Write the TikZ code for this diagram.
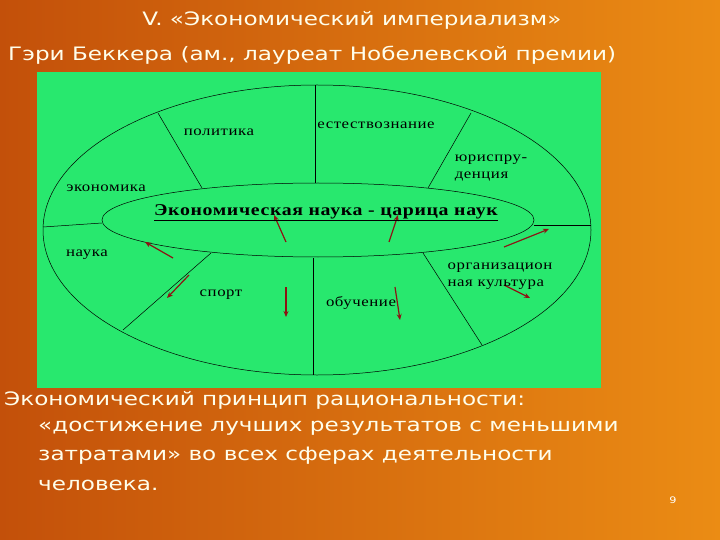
\documentclass[tikz,border=0pt]{standalone}
\usepackage{fontspec}
\setmainfont{DejaVu Sans}[FakeStretch=1.25]
\newfontfamily\serifx{Liberation Serif}[FakeStretch=1.2,LetterSpace=4]
\definecolor{bgA}{RGB}{195,80,10}
\definecolor{bgB}{RGB}{235,140,20}
\definecolor{grn}{RGB}{40,232,110}
\definecolor{arr}{RGB}{140,20,20}
\usetikzlibrary{arrows.meta}
\begin{document}
\begin{tikzpicture}[x=1pt,y=-1pt,
  lab/.style={font=\serifx\fontsize{14}{17}\selectfont, align=left, inner sep=0pt},
  hd/.style={font=\fontsize{18.5}{28}\selectfont, text=white!92!yellow, inner sep=0pt, anchor=west},
  ln/.style={draw=black, line width=0.5pt},
  ar/.style={draw=arr, line width=1.2pt, -{Stealth[length=6pt,width=5pt]}}]
\useasboundingbox (0,0) rectangle (720,540);
\shade[left color=bgA, right color=bgB] (0,0) rectangle (720,540);
\fill[grn] (37,72) rectangle (601,388);
\draw[ln] (317,230) ellipse [x radius=274, y radius=145];
\draw[ln] (318,220) ellipse [x radius=216, y radius=37];
\coordinate (t1) at (315,85); \coordinate (t2) at (315,183);
\coordinate (b1) at (313,258); \coordinate (b2) at (313,375);
\coordinate (l1) at (43,227); \coordinate (l2) at (102,223);
\coordinate (r1) at (534,225); \coordinate (r2) at (591,225);
\coordinate (p1) at (158,113); \coordinate (p2) at (202,188);
\coordinate (j1) at (471,113); \coordinate (j2) at (428,188);
\coordinate (s1) at (211,253); \coordinate (s2) at (123,330);
\coordinate (o1) at (423,253); \coordinate (o2) at (482,345);
\foreach \a/\b in {t1/t2,b1/b2,l1/l2,r1/r2,p1/p2,j1/j2,s1/s2,o1/o2} \draw[ln] (\a)--(\b);
\foreach \a/\b/\c/\d in {286/242/274/215, 389/242/398/215, 173/258/145/242, 189/275/167/298, 286/287/286/317, 395/287/400/320, 504/247/549/229, 504/285/530/298}
  \draw[ar] (\a,\b)--(\c,\d);
\node[lab] (pol) at (219,132) {политика};
\node[lab] (est) at (376,125) {естествознание};
\node[lab] (jur) at (491,168) {юриспру-\\денция};
\node[lab] (eco) at (106,188) {экономика};
\node[lab] (nau) at (87,255) {наука};
\node[lab] (spo) at (221,295) {спорт};
\node[lab] (obu) at (361,303) {обучение};
\node[lab] (org) at (500,276) {организацион\\ная культура};
\node[font=\serifx\bfseries\fontsize{16.5}{18}\selectfont, inner sep=0pt] (main) at (326,213) {\underline{Экономическая наука - царица наук}};
\node[hd, anchor=center] (h1) at (352,20) {V. «Экономический империализм»};
\node[hd] (h2) at (8,55) {Гэри Беккера (ам., лауреат Нобелевской премии)};
\node[hd] (f1) at (4,400) {Экономический принцип рациональности:};
\node[hd] (f2) at (38,428) {«достижение лучших результатов с меньшими};
\node[hd] (f3) at (38,456) {затратами» во всех сферах деятельности};
\node[hd] (f4) at (38,485) {человека.};
\node[font=\fontsize{9}{10}\selectfont, text=white] (pg) at (673,500) {9};
\end{tikzpicture}
\end{document}
